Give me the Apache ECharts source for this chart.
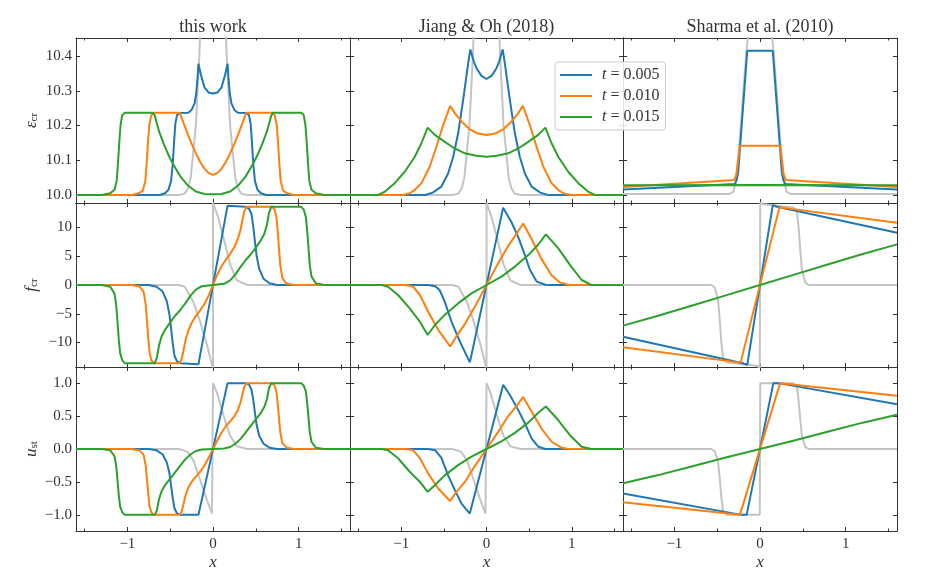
<!DOCTYPE html>
<html>
<head>
<meta charset="utf-8">
<title>eps / f / u comparison</title>
<script src="https://cdn.jsdelivr.net/npm/echarts@6/dist/echarts.min.js"></script>
<style>
  html, body { margin: 0; padding: 0; background: #fff; }
  #chart { width: 927px; height: 581px; }
</style>
</head>
<body>
<div id="chart"></div>
<script>
// ---- axis ranges / labels ----
var xRange = [-1.6, 1.6];
var yRanges = [[9.977, 10.452], [-14.26, 14.26], [-1.245, 1.245]];
var yTickCounts = [5, 6, 5];
var columnTitles = ['this work', 'Jiang & Oh (2018)', 'Sharma et al. (2010)'];
var seriesNames = ['t = 0.005', 't = 0.010', 't = 0.015'];
var seriesColors = ['#1f77b4', '#ff7f0e', '#2ca02c'];
var refColor = '#c4c4c4';

// ---- grey reference curves ----
var epsRef = [[-1.6,10.0],[-0.4,10.0],[-0.33,10.004],[-0.29,10.02],[-0.26,10.05],[-0.24,10.1],[-0.2,10.2],[-0.16,10.4],[-0.13,10.6],[-0.08,10.9],[0,11.0],[0.08,10.9],[0.13,10.6],[0.16,10.4],[0.2,10.2],[0.24,10.1],[0.26,10.05],[0.29,10.02],[0.33,10.004],[0.4,10.0],[1.6,10.0]];
var fRef = [[-1.6,0],[-0.4,0],[-0.33,-0.3],[-0.23,-2.9],[-0.15,-6.4],[-0.07,-10.4],[-0.012,-13.9],[0,-14.3],[0,14.3],[0.006,14.0],[0.06,11.8],[0.13,7.8],[0.2,3.6],[0.28,0.8],[0.4,0],[1.6,0]];
var uRef = [[-1.6,0],[-0.4,0],[-0.3,-0.04],[-0.23,-0.17],[-0.15,-0.47],[-0.07,-0.78],[-0.012,-0.98],[0,-1.0],[0,1.0],[0.005,0.98],[0.05,0.84],[0.125,0.5],[0.2,0.2],[0.28,0.04],[0.4,0],[1.6,0]];
var epsRefSharma = [[-1.6,10.003],[-0.36,10.003],[-0.31,10.01],[-0.28,10.04],[-0.24,10.15],[-0.2,10.28],[-0.16,10.41],[-0.14,10.46],[-0.12,10.6],[0.12,10.6],[0.14,10.46],[0.16,10.41],[0.2,10.28],[0.24,10.15],[0.28,10.04],[0.31,10.01],[0.36,10.003],[1.6,10.003]];
var fRefSharma = [[-1.6,0],[-0.57,0],[-0.53,-0.4],[-0.49,-2.6],[-0.47,-6.1],[-0.45,-10.2],[-0.43,-12.9],[-0.39,-13.5],[-0.2,-13.8],[-0.02,-14.1],[-0.003,-15],[0.003,15],[0.02,14.1],[0.2,13.8],[0.39,13.5],[0.43,12.9],[0.45,10.2],[0.47,6.1],[0.49,2.6],[0.53,0.4],[0.57,0],[1.6,0]];
var uRefSharma = [[-1.6,0],[-0.57,0],[-0.53,-0.03],[-0.49,-0.19],[-0.47,-0.45],[-0.45,-0.75],[-0.43,-0.95],[-0.39,-1.0],[-0.003,-1.0],[0.003,1.0],[0.39,1.0],[0.43,0.95],[0.45,0.75],[0.47,0.45],[0.49,0.19],[0.53,0.03],[0.57,0],[1.6,0]];

// ---- this work ----
var epsThis1 = [[-1.6,10.0],[-0.62,10.0],[-0.56,10.005],[-0.52,10.015],[-0.49,10.04],[-0.47,10.09],[-0.455,10.15],[-0.44,10.205],[-0.42,10.23],[-0.39,10.236],[-0.29,10.237],[-0.25,10.245],[-0.215,10.264],[-0.196,10.293],[-0.18,10.34],[-0.17,10.378],[-0.14,10.345],[-0.1,10.31],[-0.05,10.295],[0,10.292],[0.05,10.295],[0.1,10.31],[0.14,10.345],[0.17,10.378],[0.18,10.34],[0.196,10.293],[0.215,10.264],[0.25,10.245],[0.29,10.237],[0.39,10.236],[0.42,10.23],[0.44,10.205],[0.455,10.15],[0.47,10.09],[0.49,10.04],[0.52,10.015],[0.56,10.005],[0.62,10.0],[1.6,10.0]];
var epsThis2 = [[-1.6,10.0],[-0.94,10.0],[-0.87,10.005],[-0.82,10.012],[-0.79,10.04],[-0.775,10.09],[-0.76,10.15],[-0.745,10.2],[-0.72,10.23],[-0.69,10.237],[-0.39,10.237],[-0.37,10.225],[-0.34,10.205],[-0.3,10.178],[-0.25,10.148],[-0.2,10.12],[-0.15,10.095],[-0.1,10.076],[-0.05,10.063],[0,10.058],[0.05,10.063],[0.1,10.076],[0.15,10.095],[0.2,10.12],[0.25,10.148],[0.3,10.178],[0.34,10.205],[0.37,10.225],[0.39,10.237],[0.69,10.237],[0.72,10.23],[0.745,10.2],[0.76,10.15],[0.775,10.09],[0.79,10.04],[0.82,10.012],[0.87,10.005],[0.94,10.0],[1.6,10.0]];
var epsThis3 = [[-1.6,10.0],[-1.3,10.0],[-1.2,10.005],[-1.15,10.015],[-1.125,10.04],[-1.11,10.09],[-1.095,10.15],[-1.08,10.2],[-1.06,10.23],[-1.03,10.237],[-0.7,10.237],[-0.68,10.228],[-0.66,10.21],[-0.63,10.183],[-0.58,10.15],[-0.52,10.115],[-0.46,10.086],[-0.38,10.053],[-0.3,10.029],[-0.2,10.01],[-0.1,10.003],[0,10.002],[0.1,10.003],[0.2,10.01],[0.3,10.029],[0.38,10.053],[0.46,10.086],[0.52,10.115],[0.58,10.15],[0.63,10.183],[0.66,10.21],[0.68,10.228],[0.7,10.237],[1.03,10.237],[1.06,10.23],[1.08,10.2],[1.095,10.15],[1.11,10.09],[1.125,10.04],[1.15,10.015],[1.2,10.005],[1.3,10.0],[1.6,10.0]];
var fThis1 = [[-1.6,0],[-0.75,0],[-0.66,-0.3],[-0.59,-1.1],[-0.54,-2.8],[-0.51,-5],[-0.49,-7.5],[-0.47,-10.2],[-0.45,-12.3],[-0.42,-13.3],[-0.38,-13.6],[-0.17,-13.8],[0.17,13.8],[0.38,13.6],[0.42,13.3],[0.45,12.3],[0.47,10.2],[0.49,7.5],[0.51,5],[0.54,2.8],[0.59,1.1],[0.66,0.3],[0.75,0],[1.6,0]];
var fThis2 = [[-1.6,0],[-0.95,0],[-0.86,-0.2],[-0.81,-1.2],[-0.785,-3.5],[-0.77,-6.5],[-0.755,-9.5],[-0.74,-11.8],[-0.72,-13.1],[-0.69,-13.6],[-0.39,-13.6],[-0.365,-12.8],[-0.345,-11.4],[-0.32,-9.5],[-0.29,-8.0],[-0.25,-6.6],[-0.2,-5.4],[-0.15,-4.4],[-0.1,-3.3],[-0.05,-1.8],[0,0],[0.05,1.8],[0.1,3.3],[0.15,4.4],[0.2,5.4],[0.25,6.6],[0.29,8.0],[0.32,9.5],[0.345,11.4],[0.365,12.8],[0.39,13.6],[0.69,13.6],[0.72,13.1],[0.74,11.8],[0.755,9.5],[0.77,6.5],[0.785,3.5],[0.81,1.2],[0.86,0.2],[0.95,0],[1.6,0]];
var fThis3 = [[-1.6,0],[-1.3,0],[-1.2,-0.3],[-1.15,-1.5],[-1.13,-3.5],[-1.115,-6.5],[-1.1,-9.5],[-1.085,-11.8],[-1.06,-13.1],[-1.03,-13.6],[-0.68,-13.6],[-0.655,-12.6],[-0.63,-10.5],[-0.6,-8.9],[-0.56,-7.8],[-0.5,-6.5],[-0.44,-5.3],[-0.38,-4.3],[-0.32,-3.1],[-0.26,-1.8],[-0.2,-0.8],[-0.13,-0.2],[0,0],[0.13,0.2],[0.2,0.8],[0.26,1.8],[0.32,3.1],[0.38,4.3],[0.44,5.3],[0.5,6.5],[0.56,7.8],[0.6,8.9],[0.63,10.5],[0.655,12.6],[0.68,13.6],[1.03,13.6],[1.06,13.1],[1.085,11.8],[1.1,9.5],[1.115,6.5],[1.13,3.5],[1.15,1.5],[1.2,0.3],[1.3,0],[1.6,0]];
var uThis1 = [[-1.6,0],[-0.75,0],[-0.66,-0.02],[-0.59,-0.08],[-0.54,-0.2],[-0.51,-0.36],[-0.49,-0.55],[-0.47,-0.75],[-0.45,-0.9],[-0.42,-0.98],[-0.38,-1.0],[-0.17,-1.0],[0.17,1.0],[0.38,1.0],[0.42,0.98],[0.45,0.9],[0.47,0.75],[0.49,0.55],[0.51,0.36],[0.54,0.2],[0.59,0.08],[0.66,0.02],[0.75,0],[1.6,0]];
var uThis2 = [[-1.6,0],[-0.95,0],[-0.86,-0.02],[-0.81,-0.09],[-0.785,-0.26],[-0.77,-0.48],[-0.755,-0.7],[-0.74,-0.87],[-0.72,-0.96],[-0.69,-1.0],[-0.39,-1.0],[-0.365,-0.94],[-0.345,-0.84],[-0.32,-0.7],[-0.29,-0.59],[-0.25,-0.5],[-0.2,-0.42],[-0.15,-0.345],[-0.1,-0.25],[-0.05,-0.13],[0,0],[0.05,0.13],[0.1,0.25],[0.15,0.345],[0.2,0.42],[0.25,0.5],[0.29,0.59],[0.32,0.7],[0.345,0.84],[0.365,0.94],[0.39,1.0],[0.69,1.0],[0.72,0.96],[0.74,0.87],[0.755,0.7],[0.77,0.48],[0.785,0.26],[0.81,0.09],[0.86,0.02],[0.95,0],[1.6,0]];
var uThis3 = [[-1.6,0],[-1.3,0],[-1.2,-0.02],[-1.15,-0.11],[-1.13,-0.26],[-1.115,-0.48],[-1.1,-0.7],[-1.085,-0.87],[-1.06,-0.96],[-1.03,-1.0],[-0.68,-1.0],[-0.655,-0.93],[-0.63,-0.76],[-0.6,-0.64],[-0.56,-0.55],[-0.5,-0.45],[-0.44,-0.35],[-0.38,-0.25],[-0.32,-0.15],[-0.26,-0.08],[-0.2,-0.03],[-0.13,-0.008],[0,0],[0.13,0.008],[0.2,0.03],[0.26,0.08],[0.32,0.15],[0.38,0.25],[0.44,0.35],[0.5,0.45],[0.56,0.55],[0.6,0.64],[0.63,0.76],[0.655,0.93],[0.68,1.0],[1.03,1.0],[1.06,0.96],[1.085,0.87],[1.1,0.7],[1.115,0.48],[1.13,0.26],[1.15,0.11],[1.2,0.02],[1.3,0],[1.6,0]];

// ---- Jiang & Oh (2018) ----
var epsJiang1 = [[-1.6,10.0],[-0.72,10.0],[-0.63,10.007],[-0.53,10.024],[-0.45,10.062],[-0.39,10.11],[-0.333,10.177],[-0.274,10.273],[-0.215,10.379],[-0.19,10.419],[-0.15,10.385],[-0.117,10.365],[-0.059,10.343],[0,10.334],[0.059,10.343],[0.117,10.365],[0.15,10.385],[0.19,10.419],[0.215,10.379],[0.274,10.273],[0.333,10.177],[0.39,10.11],[0.45,10.062],[0.53,10.024],[0.63,10.007],[0.72,10.0],[1.6,10.0]];
var epsJiang2 = [[-1.6,10.0],[-0.98,10.0],[-0.9,10.005],[-0.84,10.015],[-0.76,10.035],[-0.665,10.082],[-0.587,10.139],[-0.51,10.2],[-0.426,10.257],[-0.37,10.235],[-0.29,10.211],[-0.2,10.19],[-0.1,10.177],[0,10.173],[0.1,10.177],[0.2,10.19],[0.29,10.211],[0.37,10.235],[0.426,10.257],[0.51,10.2],[0.587,10.139],[0.665,10.082],[0.76,10.035],[0.84,10.015],[0.9,10.005],[0.98,10.0],[1.6,10.0]];
var epsJiang3 = [[-1.6,10.0],[-1.27,10.0],[-1.19,10.01],[-1.076,10.034],[-0.958,10.067],[-0.841,10.11],[-0.763,10.149],[-0.69,10.194],[-0.606,10.173],[-0.489,10.153],[-0.372,10.134],[-0.254,10.12],[-0.117,10.113],[0,10.11],[0.117,10.113],[0.254,10.12],[0.372,10.134],[0.489,10.153],[0.606,10.173],[0.69,10.194],[0.763,10.149],[0.841,10.11],[0.958,10.067],[1.076,10.034],[1.19,10.01],[1.27,10.0],[1.6,10.0]];
var fJiang1 = [[-1.6,0],[-0.69,0],[-0.6,-0.2],[-0.55,-0.87],[-0.49,-2.9],[-0.41,-6.4],[-0.31,-9.9],[-0.195,-13.45],[0.195,13.45],[0.29,11.0],[0.37,8.4],[0.45,5.2],[0.51,2.6],[0.59,0.58],[0.69,0.05],[0.75,0],[1.6,0]];
var fJiang2 = [[-1.6,0],[-0.94,0],[-0.86,-0.29],[-0.78,-1.74],[-0.685,-4.6],[-0.567,-7.8],[-0.426,-10.7],[-0.352,-8.9],[-0.254,-6.8],[-0.137,-3.8],[0,0],[0.137,3.8],[0.254,6.8],[0.352,8.9],[0.43,10.7],[0.528,8.0],[0.645,4.5],[0.763,1.7],[0.86,0.45],[0.96,0],[1.6,0]];
var fJiang3 = [[-1.6,0],[-1.23,0],[-1.154,-0.29],[-1.037,-1.74],[-0.9,-4.06],[-0.78,-6.4],[-0.69,-8.7],[-0.606,-7.0],[-0.49,-5.2],[-0.333,-3.2],[-0.176,-1.45],[0,0],[0.176,1.45],[0.333,3.2],[0.49,5.2],[0.606,7.0],[0.696,8.8],[0.84,6.4],[0.978,3.5],[1.115,0.87],[1.23,0],[1.6,0]];
var uJiang1 = [[-1.6,0],[-0.69,0],[-0.6,-0.02],[-0.53,-0.13],[-0.45,-0.4],[-0.372,-0.62],[-0.293,-0.83],[-0.196,-0.98],[0.196,0.975],[0.274,0.82],[0.372,0.59],[0.45,0.39],[0.528,0.16],[0.606,0.035],[0.69,0],[1.6,0]];
var uJiang2 = [[-1.6,0],[-0.94,0],[-0.86,-0.02],[-0.78,-0.14],[-0.685,-0.37],[-0.567,-0.6],[-0.426,-0.79],[-0.352,-0.65],[-0.254,-0.5],[-0.137,-0.26],[0,0],[0.137,0.26],[0.254,0.5],[0.352,0.65],[0.43,0.79],[0.528,0.57],[0.645,0.31],[0.763,0.11],[0.88,0.02],[0.96,0],[1.6,0]];
var uJiang3 = [[-1.6,0],[-1.23,0],[-1.154,-0.02],[-1.037,-0.14],[-0.9,-0.345],[-0.78,-0.5],[-0.69,-0.65],[-0.606,-0.55],[-0.49,-0.4],[-0.333,-0.245],[-0.176,-0.117],[0,0],[0.176,0.117],[0.333,0.245],[0.49,0.4],[0.606,0.55],[0.696,0.645],[0.84,0.44],[0.978,0.21],[1.115,0.035],[1.23,0],[1.6,0]];

// ---- Sharma et al. (2010) ----
var epsSharma1 = [[-1.6,10.016],[-0.293,10.032],[-0.27,10.045],[-0.255,10.065],[-0.149,10.415],[0.149,10.415],[0.255,10.065],[0.27,10.045],[0.293,10.032],[1.6,10.016]];
var epsSharma2 = [[-1.6,10.023],[-0.3,10.043],[-0.275,10.06],[-0.235,10.142],[0.235,10.142],[0.275,10.06],[0.3,10.043],[1.6,10.023]];
var epsSharma3 = [[-1.6,10.028],[0,10.029],[1.6,10.028]];
var fSharma1 = [[-1.6,-9.0],[-0.2,-13.6],[-0.149,-13.9],[0.149,13.9],[0.2,13.6],[1.6,9.1]];
var fSharma2 = [[-1.6,-10.84],[-0.227,-13.5],[0.227,13.5],[1.6,10.84]];
var fSharma3 = [[-1.6,-7.07],[-1.2,-5.4],[-0.8,-3.6],[-0.4,-1.8],[0,0],[0.4,1.8],[0.8,3.6],[1.2,5.4],[1.6,7.07]];
var uSharma1 = [[-1.6,-0.675],[-0.215,-1.0],[-0.156,-1.0],[0.156,1.0],[0.215,1.0],[1.6,0.68]];
var uSharma2 = [[-1.6,-0.81],[-0.235,-1.0],[0.235,1.0],[1.6,0.81]];
var uSharma3 = [[-1.6,-0.52],[-1.2,-0.4],[-0.8,-0.265],[-0.4,-0.13],[0,0],[0.4,0.13],[0.8,0.265],[1.2,0.4],[1.6,0.52]];

// panels, row by row
var panels = [
    [ {ref: epsRef, lines: [epsThis1, epsThis2, epsThis3]},
      {ref: epsRef, lines: [epsJiang1, epsJiang2, epsJiang3]},
      {ref: epsRefSharma, lines: [epsSharma1, epsSharma2, epsSharma3]} ],
    [ {ref: fRef, lines: [fThis1, fThis2, fThis3]},
      {ref: fRef, lines: [fJiang1, fJiang2, fJiang3]},
      {ref: fRefSharma, lines: [fSharma1, fSharma2, fSharma3]} ],
    [ {ref: uRef, lines: [uThis1, uThis2, uThis3]},
      {ref: uRef, lines: [uJiang1, uJiang2, uJiang3]},
      {ref: uRefSharma, lines: [uSharma1, uSharma2, uSharma3]} ]
];

// layout of the 3x3 panel block
var colLeft = [76, 350, 623], colWidth = [274, 273, 274];
var rowTop = [38, 203, 367], rowHeight = [165, 164, 164];

var serif = 'Liberation Serif';
var ink = '#333';

function minus(s) { return String(s).replace('-', '\u2212'); }
var yFormat = [
    function (v) { return v.toFixed(1); },
    function (v) { return minus(Math.round(v)); },
    function (v) { return minus(v.toFixed(1)); }
];
var yNames = ['{i|\u03b5}{s|cr}', '{i|f}{s|cr}', '{i|u}{s|st}'];
var nameRich = {
    i: { fontFamily: serif, fontStyle: 'italic', fontSize: 17, color: ink, lineHeight: 20, verticalAlign: 'bottom' },
    s: { fontFamily: serif, fontSize: 11, color: ink, lineHeight: 14, verticalAlign: 'bottom' }
};

var grids = [], xAxes = [], yAxes = [], series = [];

function tickLine() { return { color: ink, width: 1 }; }

for (var r = 0; r < 3; r++) {
    for (var c = 0; c < 3; c++) {
        var gi = r * 3 + c;
        grids.push({ left: colLeft[c], top: rowTop[r], width: colWidth[c], height: rowHeight[r] });

        ['bottom', 'top'].forEach(function (pos) {
            var isBottom = pos === 'bottom';
            xAxes.push({
                type: 'value', gridIndex: gi, position: pos,
                min: xRange[0], max: xRange[1], splitNumber: 3,
                axisLine: { show: true, onZero: false, lineStyle: { color: ink, width: 1 } },
                axisTick: { show: true, inside: true, length: 4, lineStyle: tickLine() },
                minorTick: { show: true, splitNumber: 2, length: 2.5, lineStyle: tickLine() },
                splitLine: { show: false },
                axisLabel: {
                    show: isBottom && r === 2, margin: 6,
                    showMinLabel: false, showMaxLabel: false,
                    fontFamily: serif, fontSize: 15, color: ink,
                    formatter: function (v) { return minus(Math.round(v)); }
                },
                name: (isBottom && r === 2) ? 'x' : '',
                nameLocation: 'middle', nameGap: 23,
                nameTextStyle: { fontFamily: serif, fontStyle: 'italic', fontSize: 17, color: ink }
            });
        });

        ['left', 'right'].forEach(function (pos) {
            var isLeft = pos === 'left';
            yAxes.push({
                type: 'value', gridIndex: gi, position: pos,
                min: yRanges[r][0], max: yRanges[r][1], splitNumber: yTickCounts[r],
                axisLine: { show: true, onZero: false, lineStyle: { color: ink, width: 1 } },
                axisTick: { show: true, inside: true, length: 4, lineStyle: tickLine() },
                splitLine: { show: false },
                axisLabel: {
                    show: isLeft && c === 0, margin: 4,
                    showMinLabel: false, showMaxLabel: false,
                    fontFamily: serif, fontSize: 15, color: ink,
                    formatter: yFormat[r]
                },
                name: (isLeft && c === 0) ? yNames[r] : '',
                nameLocation: 'middle', nameRotate: 90, nameGap: 36,
                nameTextStyle: { rich: nameRich }
            });
        });

        var panel = panels[r][c];
        series.push({
            type: 'line', name: 'reference', xAxisIndex: gi * 2, yAxisIndex: gi * 2,
            data: panel.ref, showSymbol: false, symbol: 'none', silent: true, z: 1,
            lineStyle: { color: refColor, width: 2 }, itemStyle: { color: refColor }
        });
        panel.lines.forEach(function (pts, k) {
            series.push({
                type: 'line', name: seriesNames[k], xAxisIndex: gi * 2, yAxisIndex: gi * 2,
                data: pts, showSymbol: false, symbol: 'none', silent: true, z: 2,
                lineStyle: { color: seriesColors[k], width: 2 }, itemStyle: { color: seriesColors[k] }
            });
        });
    }
}

var chart = echarts.init(document.getElementById('chart'));
chart.setOption({
    animation: false,
    backgroundColor: '#fff',
    title: columnTitles.map(function (t, c) {
        return {
            text: t, left: colLeft[c] + colWidth[c] / 2, top: 18, textAlign: 'center', padding: 0,
            textStyle: { fontFamily: serif, fontSize: 18, fontWeight: 'normal', color: ink }
        };
    }),
    legend: {
        data: seriesNames, orient: 'vertical', left: 555, top: 62,
        icon: 'rect', itemWidth: 32, itemHeight: 2, itemGap: 5,
        padding: [5, 6, 5, 5],
        backgroundColor: 'rgba(255,255,255,0.85)', borderColor: '#cccccc', borderWidth: 1, borderRadius: 3,
        selectedMode: false,
        formatter: function (name) { return '{i|t}{n| = ' + name.split('= ')[1] + '}'; },
        textStyle: {
            padding: [0, 0, 0, 5],
            rich: {
                i: { fontFamily: serif, fontStyle: 'italic', fontSize: 16, color: ink, lineHeight: 16 },
                n: { fontFamily: serif, fontSize: 16, color: ink, lineHeight: 16 }
            }
        }
    },
    grid: grids,
    xAxis: xAxes,
    yAxis: yAxes,
    series: series
});
</script>
</body>
</html>
